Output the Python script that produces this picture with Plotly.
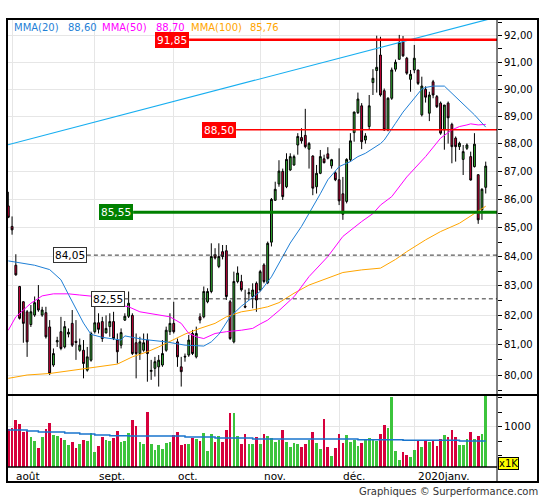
import math
import pandas as pd
import plotly.graph_objects as go

# ---------------- data ----------------
holidays = ["2019-12-25", "2019-12-26", "2020-01-01"]
dates = [d for d in pd.bdate_range("2019-07-31", "2020-01-29") if d.strftime("%Y-%m-%d") not in holidays]

opens = [85.77, 85.05, 83.70, 82.97, 82.45, 82.11, 81.68, 82.00, 82.51, 82.00,
         82.08, 81.60, 80.33, 81.10, 81.44, 80.93, 81.36, 81.72, 81.12, 80.82,
         80.82, 80.16, 80.49, 81.44, 81.74, 81.78, 81.40, 81.61, 81.78, 81.16,
         80.99, 81.83, 81.96, 81.99, 81.07, 80.71, 80.82, 81.16, 80.12, 80.22,
         80.27, 80.33, 80.82, 81.44, 81.72, 81.10, 80.27, 80.62, 80.66, 81.38,
         80.60, 81.94, 81.94, 82.45, 82.80, 84.06, 83.66, 84.17, 84.20, 82.45,
         81.10, 83.14, 83.14, 82.30, 82.72, 82.63, 83.08, 82.85, 83.71, 83.10,
         84.50, 85.97, 86.55, 87.00, 86.45, 87.05, 87.23, 87.95, 88.22, 88.30,
         87.80, 87.55, 86.45, 86.93, 87.45, 87.63, 87.20, 86.95, 86.70, 86.20,
         85.93, 87.42, 88.40, 89.13, 89.38, 88.13, 88.62, 90.24, 90.69, 91.27,
         89.94, 88.50, 89.66, 90.74, 91.11, 91.77, 91.15, 90.36, 90.71, 90.71,
         89.05, 89.99, 89.11, 90.27, 89.72, 89.48, 88.50, 89.48, 88.70, 88.20,
         87.89, 87.43, 87.83, 87.53, 87.17, 86.88, 85.63, 86.43]
highs = [86.27, 85.40, 84.08, 82.99, 82.47, 82.17, 82.34, 82.63, 83.02, 82.28,
         82.28, 81.83, 80.88, 81.27, 81.94, 81.80, 81.55, 82.17, 81.83, 81.21,
         81.16, 80.93, 81.44, 82.28, 82.06, 81.94, 81.99, 82.06, 82.11, 81.38,
         81.55, 82.06, 82.80, 82.06, 81.38, 81.27, 81.38, 81.38, 80.50, 80.60,
         80.66, 81.16, 81.61, 82.06, 82.45, 81.21, 80.60, 80.71, 81.33, 81.50,
         81.61, 82.06, 82.97, 82.91, 84.46, 84.29, 84.46, 84.40, 84.40, 82.51,
         83.48, 83.66, 83.37, 82.86, 82.91, 83.08, 83.14, 83.54, 83.77, 84.52,
         86.05, 86.63, 87.40, 87.10, 87.65, 87.65, 87.60, 88.38, 88.56, 89.27,
         88.06, 87.58, 87.23, 87.77, 87.60, 87.87, 87.45, 87.00, 87.83, 86.80,
         87.47, 88.38, 89.17, 89.87, 89.48, 88.38, 89.78, 90.74, 92.00, 91.96,
         90.02, 89.70, 90.80, 91.10, 92.03, 91.99, 91.20, 90.71, 91.65, 90.71,
         90.46, 90.10, 89.90, 90.34, 89.78, 89.54, 89.41, 89.54, 88.76, 88.26,
         88.07, 87.95, 88.01, 87.71, 88.38, 86.90, 86.40, 87.35]
lows = [85.34, 84.76, 83.34, 81.85, 81.07, 80.60, 81.60, 81.94, 82.11, 81.94,
        81.21, 80.00, 80.27, 80.93, 80.82, 80.88, 81.25, 80.93, 80.50, 80.77,
        79.89, 80.11, 80.44, 81.38, 81.38, 81.10, 81.38, 81.27, 81.16, 80.38,
        80.88, 81.80, 81.90, 80.66, 79.89, 80.50, 80.77, 79.78, 79.84, 79.95,
        79.62, 80.27, 80.77, 81.33, 81.38, 80.27, 79.62, 80.44, 80.60, 80.66,
        80.55, 81.72, 81.89, 82.40, 82.74, 83.90, 83.60, 83.90, 82.51, 81.16,
        81.05, 83.08, 82.80, 82.23, 82.51, 82.23, 82.11, 82.80, 83.08, 83.05,
        84.35, 85.95, 86.45, 85.98, 86.40, 87.02, 87.20, 87.60, 88.00, 87.83,
        87.10, 86.15, 86.21, 86.90, 87.29, 87.43, 87.10, 86.65, 85.80, 85.28,
        85.86, 87.35, 88.07, 89.08, 87.80, 88.00, 88.50, 89.78, 89.87, 89.72,
        88.46, 88.45, 89.60, 90.65, 91.10, 91.20, 90.53, 89.90, 90.59, 90.15,
        88.99, 89.50, 88.82, 89.66, 89.30, 88.32, 87.78, 88.00, 87.29, 87.35,
        87.77, 86.87, 87.77, 86.67, 87.14, 85.14, 85.28, 86.21]
closes = [85.37, 84.93, 83.37, 81.89, 81.72, 81.10, 82.11, 82.42, 82.17, 82.17,
          81.27, 80.05, 80.71, 81.14, 80.88, 81.61, 81.42, 80.99, 81.08, 80.99,
          80.38, 80.60, 81.38, 81.74, 81.52, 81.21, 81.55, 81.78, 81.21, 80.77,
          81.41, 81.96, 82.40, 80.71, 80.71, 81.10, 81.07, 80.71, 80.15, 80.44,
          80.49, 80.71, 81.49, 81.72, 81.44, 80.60, 80.11, 80.60, 81.16, 80.71,
          81.38, 81.83, 82.80, 82.80, 84.00, 83.95, 84.00, 84.00, 82.63, 81.21,
          83.14, 83.43, 82.86, 82.27, 82.76, 82.85, 82.51, 83.48, 83.14, 84.46,
          86.00, 86.36, 87.01, 86.10, 87.43, 87.53, 87.53, 88.26, 88.10, 87.89,
          88.00, 86.40, 86.93, 87.53, 87.31, 87.47, 87.42, 86.70, 85.95, 85.48,
          87.43, 88.10, 89.15, 89.63, 88.07, 88.28, 89.38, 90.40, 90.81, 89.78,
          88.50, 89.66, 90.71, 91.00, 91.74, 91.24, 90.59, 90.55, 91.15, 90.21,
          90.11, 89.70, 89.78, 89.78, 89.35, 88.38, 89.41, 88.94, 87.89, 87.89,
          88.01, 87.71, 87.95, 86.69, 87.98, 85.28, 86.36, 87.19]
volumes = [965, 983, 1122, 1052, 913, 924, 826, 756, 634, 826,
           965, 1070, 861, 843, 808, 773, 686, 739, 634, 704,
           773, 756, 895, 564, 669, 826, 773, 756, 808, 930,
           739, 756, 895, 1122, 1017, 739, 704, 1261, 704, 599,
           686, 617, 721, 739, 861, 913, 686, 704, 704, 808,
           791, 756, 895, 582, 878, 739, 843, 739, 948, 1244,
           1244, 843, 704, 878, 704, 698, 820, 698, 872, 837,
           802, 733, 768, 942, 733, 646, 715, 698, 646, 698,
           768, 907, 715, 611, 1134, 646, 489, 628, 872, 715,
           855, 733, 768, 663, 715, 785, 802, 768, 750, 872,
           1029, 977, 1517, 576, 419, 558, 506, 471, 593, 750,
           646, 750, 733, 750, 663, 785, 855, 820, 942, 820,
           680, 680, 785, 907, 785, 837, 872, 1546]

# moving averages (candle index -> value)
mma20_idx = [0, 7, 11, 14, 16, 18, 20, 22, 25, 30, 31, 33, 36, 42, 47, 52, 54, 56, 59, 62,
             67, 70, 72, 75, 78, 80, 83, 85, 88, 91, 93, 95, 97, 99, 100, 101, 103, 105, 108,
             110, 111, 113, 116, 118, 120, 122, 124, 127]
mma20_val = [83.85, 83.70, 83.55, 83.20, 82.70, 82.20, 81.73, 81.35, 81.25, 81.16, 81.30, 81.25,
             81.18, 81.10, 80.99, 80.96, 81.10, 81.35, 81.94, 82.30, 82.80, 83.30, 83.75, 84.47,
             85.05, 85.50, 86.20, 86.70, 87.17, 87.35, 87.53, 87.65, 87.83, 88.00, 88.13, 88.35,
             88.74, 89.15, 89.66, 90.00, 90.06, 90.11, 90.11, 89.84, 89.60, 89.30, 89.05, 88.60]
mma50_idx = [0, 2, 6, 9, 12, 16, 19, 23, 27, 32, 35, 40, 43, 46, 48, 50, 52, 55, 58, 62, 65,
             67, 69, 72, 76, 80, 85, 89, 94, 97, 99, 102, 106, 111, 115, 118, 120, 122, 123, 125, 127]
mma50_val = [81.49, 81.94, 82.40, 82.65, 82.72, 82.72, 82.68, 82.63, 82.40, 82.28, 82.11, 82.00,
             81.94, 81.72, 81.38, 81.27, 81.21, 81.38, 81.44, 81.49, 81.55, 81.70, 81.83, 82.15,
             82.62, 83.31, 84.00, 84.70, 85.22, 85.50, 85.80, 86.10, 86.80, 87.53, 88.20, 88.50,
             88.62, 88.68, 88.72, 88.68, 88.70]
mma100_idx = [0, 5, 11, 16, 21, 24, 29, 33, 37, 40, 44, 47, 51, 55, 58, 62, 65, 69, 72, 76, 80,
              85, 89, 94, 99, 103, 106, 111, 115, 120, 124, 127]
mma100_val = [79.89, 80.00, 80.05, 80.14, 80.22, 80.27, 80.36, 80.60, 80.77, 80.93, 81.16, 81.36,
              81.55, 81.72, 81.94, 82.11, 82.17, 82.28, 82.42, 82.74, 83.02, 83.25, 83.45, 83.54,
              83.60, 83.90, 84.17, 84.58, 84.87, 85.16, 85.51, 85.76]
volma_idx = [0, 5, 8, 15, 19, 23, 27, 32, 47, 55, 65, 93, 105, 120, 127]
volma_val = [942, 924, 907, 890, 872, 855, 843, 837, 820, 802, 785, 770, 762, 750, 750]

trend_idx = [-0.35, 130]
trend_val = [87.95, 92.71]

# horizontal levels: (value, start index, style)
levels = [
    (91.85, 48.1, "solid_red_thick"),
    (88.50, 60.6, "solid_red"),
    (85.55, 33.2, "solid_green"),
    (84.05, 20.9, "dash"),
    (82.55, 31.0, "dash"),
]

price_ticks = [80, 81, 82, 83, 84, 85, 86, 87, 88, 89, 90, 91, 92]
price_minor = [79.5, 80.5, 81.5, 82.5, 83.5, 84.5, 85.5, 86.5, 87.5, 88.5, 89.5, 90.5, 91.5, 92.5]
month_labels = ["août", "sept.", "oct.", "nov.", "déc.", "2020janv."]

# ---------------- styling ----------------
FONT = "DejaVu Sans"
GREEN = "#33b833"
VGREEN = "#3cc43c"
RED = "#d6003c"
GRID = "#e6e6e6"

n = len(dates)
x = list(range(n))
month_idx = [i for i in range(1, n) if dates[i].month != dates[i - 1].month]

fmt = lambda v: f"{v:.2f}".replace(".", ",")

fig = go.Figure()

fig.add_trace(go.Candlestick(
    x=x, open=opens, high=highs, low=lows, close=closes,
    increasing=dict(line=dict(color="#000000", width=1), fillcolor=GREEN),
    decreasing=dict(line=dict(color="#000000", width=1), fillcolor=RED),
    whiskerwidth=0, showlegend=False, hoverinfo="skip", xaxis="x", yaxis="y"))

fig.add_trace(go.Scatter(x=mma100_idx, y=mma100_val, mode="lines",
                         line=dict(color="#ffa500", width=1), showlegend=False, hoverinfo="skip"))
fig.add_trace(go.Scatter(x=mma50_idx, y=mma50_val, mode="lines",
                         line=dict(color="#ff00ff", width=1), showlegend=False, hoverinfo="skip"))
fig.add_trace(go.Scatter(x=mma20_idx, y=mma20_val, mode="lines",
                         line=dict(color="#1f7fd6", width=1), showlegend=False, hoverinfo="skip"))
fig.add_trace(go.Scatter(x=trend_idx, y=trend_val, mode="lines",
                         line=dict(color="#17aef0", width=1.2), showlegend=False, hoverinfo="skip"))

annotations = []
for val, start, style in levels:
    if style == "dash":
        line = dict(color="#333333", width=1, dash="4px,3px")
    elif style == "solid_green":
        line = dict(color="#008000", width=3)
    elif style == "solid_red_thick":
        line = dict(color="#ff0000", width=2.5)
    else:
        line = dict(color="#ff0000", width=1.5)
    fig.add_trace(go.Scatter(x=[start, 130], y=[val, val], mode="lines", line=line,
                             showlegend=False, hoverinfo="skip"))
    if style == "dash":
        box = dict(bgcolor="#ffffff", bordercolor="#333333", font=dict(color="#000000"))
    elif style == "solid_green":
        box = dict(bgcolor="#008000", bordercolor="#008000", font=dict(color="#ffffff"))
    else:
        box = dict(bgcolor="#ff0000", bordercolor="#ff0000", font=dict(color="#ffffff"))
    annotations.append(dict(
        x=start, y=math.log10(val), xref="x", yref="y", text=fmt(val), showarrow=False,
        xanchor="right", yanchor="middle", borderwidth=1, borderpad=1,
        bgcolor=box["bgcolor"], bordercolor=box["bordercolor"],
        font=dict(family=FONT, size=10.5, color=box["font"]["color"])))

vol_colors = [VGREEN if c >= o else RED for o, c in zip(opens, closes)]
fig.add_trace(go.Bar(x=x, y=volumes, marker=dict(color=vol_colors, line=dict(width=0)),
                     width=0.72, xaxis="x", yaxis="y2", showlegend=False, hoverinfo="skip"))
fig.add_trace(go.Scatter(x=volma_idx, y=volma_val, mode="lines", line=dict(color="#1874cd", width=1.5, shape="hv"),
                         xaxis="x", yaxis="y2", showlegend=False, hoverinfo="skip"))

# legend texts
legend_items = [
    ("MMA(20)", 13, "#1f7fd6"), (fmt(mma20_val[-1]), 67, "#1f7fd6"),
    ("MMA(50)", 101, "#ff00ff"), (fmt(mma50_val[-1]), 155, "#ff00ff"),
    ("MMA(100)", 190, "#ffa500"), (fmt(mma100_val[-1]), 249, "#ffa500"),
]
for txt, px, col in legend_items:
    annotations.append(dict(x=(px - 7) / 490, y=(467 - 27) / 448, xref="paper", yref="paper",
                            text=txt, showarrow=False, xanchor="left", yanchor="middle",
                            borderpad=0, font=dict(family=FONT, size=10, color=col)))

for i, lab in zip(month_idx, month_labels):
    annotations.append(dict(x=i, y=0, xref="x", yref="paper", text=lab, showarrow=False,
                            xanchor="left", yanchor="top", xshift=2, yshift=-1,
                            font=dict(family=FONT, size=10.5, color="#000000")))

annotations.append(dict(x=(498 - 7) / 490, y=(467 - 463) / 448, xref="paper", yref="paper", text="x1K",
                        showarrow=False, xanchor="left", yanchor="middle", bgcolor="#ffff00",
                        bordercolor="#000000", borderwidth=1, borderpad=0,
                        font=dict(family=FONT, size=10, color="#000000")))
annotations.append(dict(x=(540 - 7) / 490, y=(467 - 491) / 448, xref="paper", yref="paper",
                        text="Graphiques © Surperformance.com", showarrow=False,
                        xanchor="right", yanchor="middle",
                        font=dict(family=FONT, size=10, color="#333333")))

vol_split = (467 - 395) / 448
x_right = (538 - 7) / 490
y_bottom = (467 - 482) / 448
shapes = [
    dict(type="rect", xref="paper", yref="paper", x0=0, x1=x_right, y0=y_bottom, y1=1,
         line=dict(color="#000000", width=2)),
    dict(type="line", xref="paper", yref="paper", x0=0, x1=x_right, y0=vol_split, y1=vol_split,
         line=dict(color="#000000", width=2)),
    dict(type="line", xref="paper", yref="paper", x0=0, x1=1, y0=0, y1=0,
         line=dict(color="#000000", width=1.5)),
    dict(type="line", xref="paper", yref="paper", x0=1, x1=1, y0=y_bottom, y1=1,
         line=dict(color="#000000", width=1)),
]

fig.update_layout(
    width=545, height=500,
    margin=dict(l=7, r=48, t=19, b=33),
    paper_bgcolor="#ffffff", plot_bgcolor="#ffffff",
    showlegend=False, bargap=0,
    font=dict(family=FONT, size=10, color="#000000"),
    xaxis=dict(range=[-0.35, 130], tickvals=month_idx, showticklabels=False, ticks="",
               showgrid=True, gridcolor=GRID, gridwidth=1, zeroline=False, showline=False,
               rangeslider=dict(visible=False), anchor="y2", fixedrange=True),
    yaxis=dict(domain=[vol_split, 1], type="log",
               range=[math.log10(79.344), math.log10(92.635)],
               side="right", tickvals=price_ticks, ticktext=[fmt(v) for v in price_ticks],
               ticks="outside", ticklen=4, tickcolor="#000000", showline=False,
               minor=dict(tickvals=price_minor, ticks="outside", ticklen=4,
                          tickcolor="#000000", showgrid=False),
               showgrid=True, gridcolor=GRID, zeroline=False, anchor="x", fixedrange=True,
               tickfont=dict(family=FONT, size=10, color="#000000")),
    yaxis2=dict(domain=[0, vol_split], range=[297, 1552], side="right",
                tickvals=[1000], ticktext=["1000"], ticks="outside", ticklen=4, tickcolor="#000000",
                minor=dict(tickvals=[500, 750, 1250, 1500], ticks="outside", ticklen=4,
                           tickcolor="#000000", showgrid=False),
                showgrid=True, gridcolor=GRID, zeroline=False, showline=False, anchor="x",
                fixedrange=True,
                tickfont=dict(family=FONT, size=10.5, color="#000000")),
    annotations=annotations,
    shapes=shapes,
)

fig.write_html(
    "out.html",
    config={"displayModeBar": False, "staticPlot": True},
    post_script=["document.body.style.margin='0';document.body.style.overflow='hidden';"],
)
